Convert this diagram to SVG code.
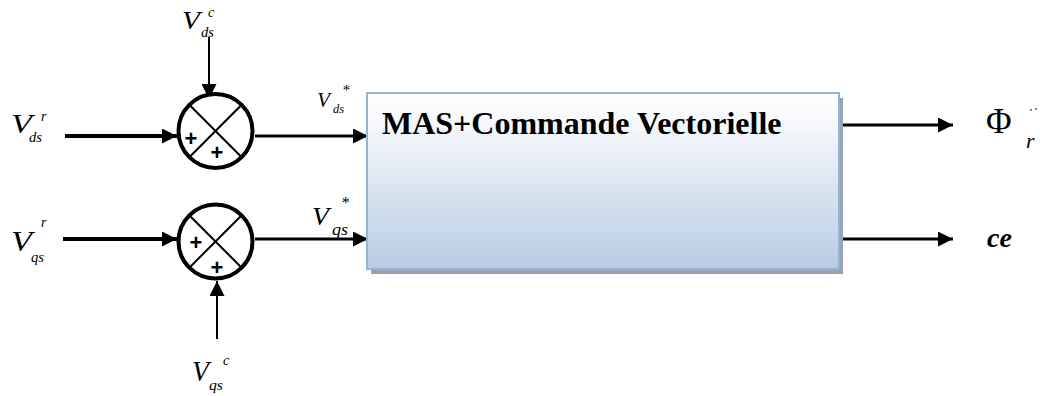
<svg xmlns="http://www.w3.org/2000/svg" width="1040" height="396" viewBox="0 0 1040 396">
  <style>
    .lbl { font-family: "Liberation Serif", "Times New Roman", serif; font-style: italic; fill: #000; }
    .sum { fill: #fff; stroke: #000; stroke-width: 4; }
    .cross { stroke: #000; stroke-width: 2; }
    .plus { font-family: "Liberation Sans", Arial, sans-serif; font-weight: bold; font-size: 22px; text-anchor: middle; fill: #000; }
    .wire { stroke: #000; fill: none; marker-end: url(#arrow); }
    .thick { stroke-width: 4; }
    .mid { stroke-width: 3; }
    .thin { stroke-width: 2; }
  </style>
  <defs>
    <marker id="arrow" markerUnits="userSpaceOnUse" markerWidth="15" markerHeight="15" refX="15" refY="7.5" orient="auto">
      <path d="M0,0 L15,7.5 L0,15 Z" fill="#000"/>
    </marker>
    <linearGradient id="boxFill" x1="0" y1="0" x2="0" y2="1">
      <stop offset="0" stop-color="#ffffff"/>
      <stop offset="0.15" stop-color="#f7f9fc"/>
      <stop offset="1" stop-color="#b8cce4"/>
    </linearGradient>
  </defs>

  <rect width="1040" height="396" fill="#fff"/>

  <!-- connectors -->
  <g id="connectors">
    <line class="wire thick" x1="65" y1="136" x2="177" y2="136"/>
    <line class="wire thin" x1="209" y1="37" x2="209" y2="99"/>
    <line class="wire mid" x1="255" y1="136" x2="368" y2="136"/>
    <line class="wire thick" x1="63" y1="239" x2="177" y2="239"/>
    <line class="wire thin" x1="217" y1="339" x2="217" y2="281"/>
    <line class="wire mid" x1="255" y1="239" x2="368" y2="239"/>
    <line class="wire mid" x1="840" y1="125" x2="953" y2="125"/>
    <line class="wire mid" x1="840" y1="239" x2="953" y2="239"/>
  </g>

  <!-- summing junction, d axis -->
  <g id="sum-d">
    <circle class="sum" cx="215.5" cy="131" r="37"/>
    <line class="cross" x1="189.3" y1="104.8" x2="241.7" y2="157.2"/>
    <line class="cross" x1="241.7" y1="104.8" x2="189.3" y2="157.2"/>
    <text class="plus" x="191" y="145.5">+</text>
    <text class="plus" x="217" y="159.5">+</text>
  </g>

  <!-- summing junction, q axis -->
  <g id="sum-q">
    <circle class="sum" cx="215.5" cy="241.5" r="37"/>
    <line class="cross" x1="189.3" y1="215.3" x2="241.7" y2="267.7"/>
    <line class="cross" x1="241.7" y1="215.3" x2="189.3" y2="267.7"/>
    <text class="plus" x="196" y="249.5">+</text>
    <text class="plus" x="217" y="274.5">+</text>
  </g>

  <!-- machine + vector control block -->
  <g id="mas-block">
    <rect x="371" y="98" width="472" height="176" fill="#98a4b4"/>
    <rect x="367" y="93" width="472" height="176" fill="url(#boxFill)" stroke="#95b3d7" stroke-width="2"/>
    <text x="382" y="134" font-family="Liberation Serif, 'Times New Roman', serif" font-weight="bold" font-size="32">MAS+Commande Vectorielle</text>
  </g>

  <!-- input labels -->
  <g id="label-vdsr" class="lbl">
    <text x="11" y="133" font-size="27" textLength="21" lengthAdjust="spacingAndGlyphs">V</text>
    <text x="29" y="142" font-size="14" textLength="13" lengthAdjust="spacingAndGlyphs">ds</text>
    <text x="41" y="121" font-size="14">r</text>
  </g>
  <g id="label-vdsc" class="lbl">
    <text x="182" y="29" font-size="25" textLength="18" lengthAdjust="spacingAndGlyphs">V</text>
    <text x="201" y="37" font-size="14" textLength="13" lengthAdjust="spacingAndGlyphs">ds</text>
    <text x="208" y="17" font-size="14">c</text>
  </g>
  <g id="label-vdsstar" class="lbl">
    <text x="317" y="107" font-size="22" textLength="13" lengthAdjust="spacingAndGlyphs">V</text>
    <text x="333" y="113" font-size="12" textLength="11" lengthAdjust="spacingAndGlyphs">ds</text>
    <text x="342" y="95" font-size="15">*</text>
  </g>
  <g id="label-vqsr" class="lbl">
    <text x="11" y="251" font-size="29" textLength="21" lengthAdjust="spacingAndGlyphs">V</text>
    <text x="31" y="262" font-size="14" textLength="13" lengthAdjust="spacingAndGlyphs">qs</text>
    <text x="41" y="227" font-size="14">r</text>
  </g>
  <g id="label-vqsc" class="lbl">
    <text x="192" y="381" font-size="29" textLength="17" lengthAdjust="spacingAndGlyphs">V</text>
    <text x="209" y="390" font-size="15" textLength="14" lengthAdjust="spacingAndGlyphs">qs</text>
    <text x="223" y="365" font-size="14">c</text>
  </g>
  <g id="label-vqsstar" class="lbl">
    <text x="312" y="225" font-size="26" textLength="17" lengthAdjust="spacingAndGlyphs">V</text>
    <text x="332" y="235" font-size="16" textLength="16" lengthAdjust="spacingAndGlyphs">qs</text>
    <text x="341" y="208" font-size="16">*</text>
  </g>

  <!-- output labels -->
  <g id="label-phir">
    <text x="986" y="133" font-family="Liberation Serif, 'Times New Roman', serif" font-size="35">Φ</text>
    <text class="lbl" x="1026" y="148" font-size="22">r</text>
    <circle cx="1031" cy="110" r="0.9" fill="#444"/>
    <circle cx="1036" cy="109" r="0.9" fill="#444"/>
  </g>
  <g id="label-ce">
    <text x="987" y="247" font-family="Liberation Serif, 'Times New Roman', serif" font-style="italic" font-weight="bold" font-size="28">ce</text>
  </g>
</svg>
